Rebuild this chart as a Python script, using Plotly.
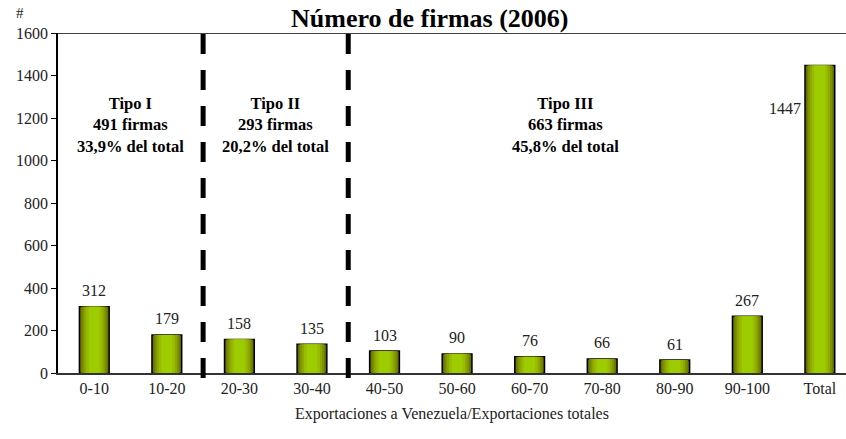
import plotly.graph_objects as go

categories = ["0-10", "10-20", "20-30", "30-40", "40-50", "50-60", "60-70", "70-80", "80-90", "90-100", "Total"]
firmas = [312, 179, 158, 135, 103, 90, 76, 66, 61, 267, 1447]
group_labels = ["Tipo I<br>491 firmas<br>33,9% del total",
                "Tipo II<br>293 firmas<br>20,2% del total",
                "Tipo III<br>663 firmas<br>45,8% del total"]
group_centers = [0.5, 2.5, 6.5]
dividers = [1.5, 3.5]

SERIF = "Liberation Serif"
fig = go.Figure()

# cylinder-like gradient by overlaying narrower, brighter bars
layers = [(0.41, "#5c6600"), (0.37, "#6e7c00"), (0.33, "#7f9100"),
          (0.28, "#8ea800"), (0.22, "#97bd00"), (0.15, "#9dcc00")]
for i, (w, c) in enumerate(layers):
    fig.add_trace(go.Bar(
        x=categories, y=firmas, width=w,
        marker=dict(color=c, line=dict(color="black" if i == 0 else c, width=1.5 if i == 0 else 0)),
        showlegend=False, hoverinfo="skip" if i else "x+y",
    ))

for cat, v in zip(categories, firmas):
    if cat == "Total":
        fig.add_annotation(x=cat, y=v, text=str(v), showarrow=False, xanchor="right",
                           yanchor="middle", xshift=-17, yshift=-43,
                           font=dict(family=SERIF, size=16, color="#222"))
    else:
        fig.add_annotation(x=cat, y=v, text=str(v), showarrow=False, yanchor="middle",
                           yshift=16, font=dict(family=SERIF, size=16, color="#222"))

for xc, t in zip(group_centers, group_labels):
    fig.add_annotation(x=xc, y=1167, text="<b>" + t + "</b>", showarrow=False,
                       yanchor="middle", align="center",
                       font=dict(family=SERIF, size=16.5, color="black"))

for d in dividers:
    fig.add_shape(type="line", xref="x", yref="paper", x0=d, x1=d, y0=-0.015, y1=1,
                  line=dict(color="black", width=5, dash="20px,16px"), layer="above")

# top border
fig.add_shape(type="line", xref="paper", yref="y", x0=0, x1=1, y0=1600, y1=1600,
              line=dict(color="black", width=1.5))

fig.add_annotation(xref="paper", yref="paper", x=-0.048, y=1.059, xanchor="center",
                   yanchor="middle", text="#", showarrow=False,
                   font=dict(family=SERIF, size=15, color="#222"))

fig.update_layout(
    width=846, height=439,
    margin=dict(l=58, r=0, t=33, b=66),
    plot_bgcolor="white", paper_bgcolor="white",
    barmode="overlay",
    title=dict(text="<b>Número de firmas (2006)</b>", x=0.508, xanchor="center",
               y=0.959, yanchor="middle", font=dict(family=SERIF, size=26, color="black")),
    xaxis=dict(type="category", range=[-0.5, 10.36], showline=True, linecolor="#333",
               linewidth=2, ticks="", showgrid=False, automargin=False,
               tickfont=dict(family=SERIF, size=16, color="#222"),
               title=dict(text="Exportaciones a Venezuela/Exportaciones totales",
                          font=dict(family=SERIF, size=16, color="#222"), standoff=12)),
    yaxis=dict(range=[0, 1600], dtick=200, showline=True, linecolor="black", linewidth=1.5,
               ticks="outside", ticklen=5, tickcolor="black", showgrid=False, zeroline=False,
               automargin=False,
               tickfont=dict(family=SERIF, size=16, color="#222")),
)

fig.write_html("out.html", config={"displayModeBar": False},
               post_script="document.body.style.margin='0';document.body.style.overflow='hidden';")
